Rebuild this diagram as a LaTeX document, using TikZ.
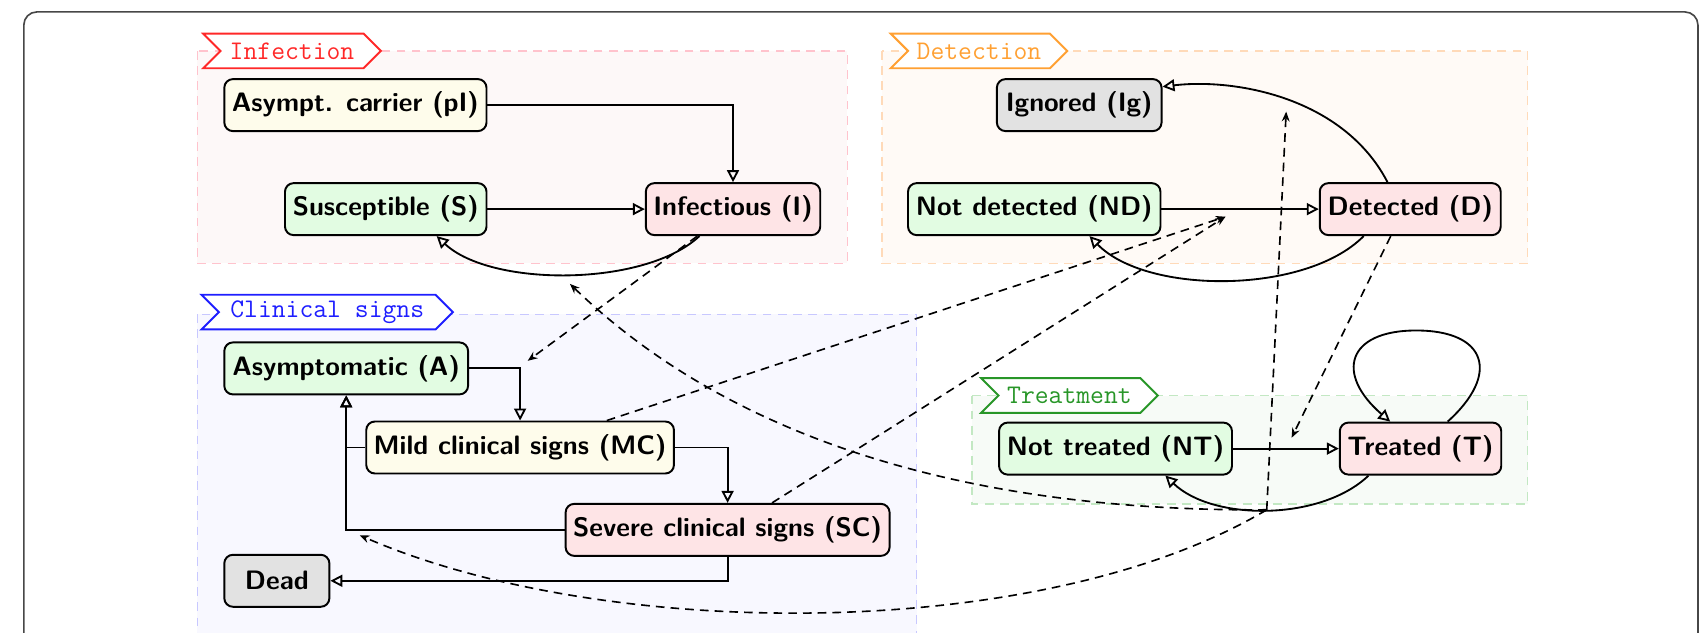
\documentclass[tikz,border=0pt]{standalone}
\usetikzlibrary{shapes.symbols,arrows.meta,calc}

% tag (title) colours
\definecolor{infT}{RGB}{255,40,40}
\definecolor{detT}{RGB}{255,160,50}
\definecolor{cliT}{RGB}{30,30,255}
\definecolor{treT}{RGB}{40,150,40}
% group borders and fills
\definecolor{infB}{RGB}{255,195,205}
\definecolor{infF}{RGB}{253,248,248}
\definecolor{detB}{RGB}{255,218,185}
\definecolor{detF}{RGB}{255,250,246}
\definecolor{cliB}{RGB}{200,200,255}
\definecolor{cliF}{RGB}{248,248,255}
\definecolor{treB}{RGB}{195,232,195}
\definecolor{treF}{RGB}{247,251,247}
% compartment fills
\definecolor{fGreen}{RGB}{226,252,226}
\definecolor{fPink}{RGB}{254,228,230}
\definecolor{fYellow}{RGB}{254,252,235}
\definecolor{fGray}{RGB}{226,226,226}

\begin{document}
\begin{tikzpicture}[x=0.5pt,y=-0.5pt,
  frame/.style={draw=black!72,line width=0.75pt,rounded corners=6pt},
  grp/.style={line width=0.6pt,dash pattern=on 4pt off 3pt},
  tag/.style={signal,signal to=east,signal from=west,fill=white,line width=0.9pt,
    minimum height=16pt,inner xsep=4pt,inner ysep=1pt,
    font=\ttfamily\fontsize{12.4}{14}\selectfont},
  comp/.style={draw,line width=0.9pt,rounded corners=4pt,minimum height=24pt,
    inner xsep=2pt,font=\sffamily\bfseries\fontsize{12.3}{14}\selectfont},
  flow/.style={line width=0.85pt,-{Triangle[open,length=5.5pt,width=5.5pt]}},
  link/.style={line width=0.75pt,dash pattern=on 4pt off 2.8pt,
    -{Stealth[length=4.5pt,width=3.6pt]}}]

\clip (0,0) rectangle (1568,584);

% outer frame
\draw[frame] (22,11) rectangle (1567,640);

% groups
\draw[grp,draw=infB,fill=infF] (182,47) rectangle (782,243);
\draw[grp,draw=detB,fill=detF] (814,47) rectangle (1410,243);
\draw[grp,draw=cliB,fill=cliF] (182,290) rectangle (846,640);
\draw[grp,draw=treB,fill=treF] (897,365) rectangle (1410,465);

% group titles
\node[tag,draw=infT,text=infT,minimum width=82pt] (tInf) at (269.5,47) {Infection};
\node[tag,draw=detT,text=detT,minimum width=81pt] (tDet) at (903.5,47) {Detection};
\node[tag,draw=cliT,text=cliT,minimum width=116pt] (tCli) at (302,288) {Clinical signs};
\node[tag,draw=treT,text=treT,minimum width=81pt] (tTre) at (987,365) {Treatment};

% compartments
\node[comp,fill=fYellow,minimum width=121pt]   (pI)   at (328,97)   {Asympt. carrier (pI)};
\node[comp,fill=fGreen,minimum width=93pt]     (S)    at (356,193)  {Susceptible (S)};
\node[comp,fill=fPink,minimum width=80.5pt]    (I)    at (676.5,193) {Infectious (I)};
\node[comp,fill=fGray,minimum width=76pt]      (Ig)   at (996,97)   {Ignored (Ig)};
\node[comp,fill=fGreen,minimum width=116.5pt]  (ND)   at (954.5,193) {Not detected (ND)};
\node[comp,fill=fPink,minimum width=83.5pt]    (D)    at (1301.5,193) {Detected (D)};
\node[comp,fill=fGreen,minimum width=112.5pt]  (A)    at (319.5,340) {Asymptomatic (A)};
\node[comp,fill=fYellow,minimum width=142pt]   (MC)   at (480,413)  {Mild clinical signs (MC)};
\node[comp,fill=fPink,minimum width=149.5pt]   (SC)   at (671.5,489) {Severe clinical signs (SC)};
\node[comp,fill=fGray,minimum width=48.5pt]    (Dead) at (255.5,536) {Dead};
\node[comp,fill=fGreen,minimum width=107.5pt]  (NT)   at (1029.5,414) {Not treated (NT)};
\node[comp,fill=fPink,minimum width=74.5pt]    (T)    at (1311,414) {Treated (T)};

% transitions: infection
\draw[flow] (pI.east) -| (I.north);
\draw[flow] (S.east) -- (I.west);
\draw[flow] ($(I.south)+(-31,0)$) .. controls (595,265) and (453,265) .. ($(S.south)+(47,0)$);

% transitions: clinical signs
\draw[flow] (A.east) -| (MC.north);
\draw[flow] (MC.east) -| (SC.north);
\draw[flow] (MC.west) -| (A.south);
\draw[flow] (SC.west) -| (A.south);
\draw[flow] (SC.south) |- (Dead.east);

% transitions: detection
\draw[flow] (ND.east) -- (D.west);
\draw[flow] ($(D.south)+(-43,0)$) .. controls (1205,272) and (1058,272) .. ($(ND.south)+(51,0)$);
\draw[flow] ($(D.north)+(-21,0)$) .. controls (1240,90) and (1140,72) .. ($(Ig.east)+(0,-17)$);

% transitions: treatment
\draw[flow] (NT.east) -- (T.west);
\draw[flow] ($(T.south)+(-48,0)$) .. controls (1219,481) and (1119,481) .. coordinate[pos=0.5] (tm) ($(NT.south)+(46,0)$);
\draw[flow] ($(T.north)+(25,0)$) .. controls (1385,345) and (1372,305) .. (1307,305)
            .. controls (1243,305) and (1232,345) .. ($(T.north)+(-28,0)$);

% targets of the influence links
\coordinate (amc) at (487,333);
\coordinate (ndd) at (1131,200);
\coordinate (ntt) at (1192,404);
\coordinate (igd) at (1187,103);
\coordinate (sca) at (332,494);
\coordinate (isb) at (526,262);

% influence links
\draw[link] ($(I.south)+(-33,0)$) -- (amc);
\draw[link] ($(MC.north)+(80,0)$) -- (ndd);
\draw[link] ($(SC.north)+(41,0)$) -- (ndd);
\draw[link] ($(D.south)+(-18,0)$) -- (ntt);
\draw[link] (tm) -- (igd);
\draw[link] (tm) .. controls (964,593) and (560,593) .. (sca);
\draw[link] (tm) .. controls (950,472) and (700,430) .. (isb);
\end{tikzpicture}
\end{document}
